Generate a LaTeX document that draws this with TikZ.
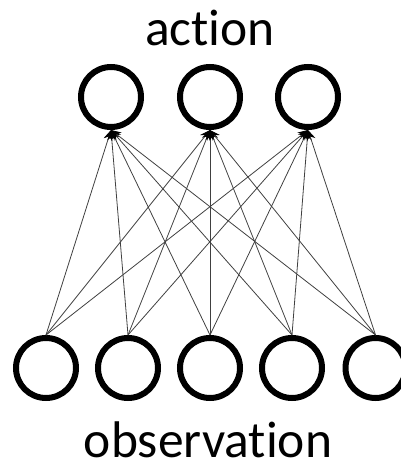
\documentclass[tikz,border=0pt]{standalone}
\usepackage{fontspec}
\setmainfont[RawFeature={-liga;-clig}]{Carlito}
\usetikzlibrary{arrows.meta}
\begin{document}
\begin{tikzpicture}[x=1pt,y=-1pt,
  unit/.style={circle,draw=black,line width=6pt,minimum size=60pt,inner sep=0pt,fill=white},
  weight/.style={draw=black!75,line width=0.8pt,-{Stealth[length=10pt,width=9pt,color=black]}},
  label/.style={font=\fontsize{51.5}{60}\selectfont,anchor=base,inner sep=0pt}]
\useasboundingbox (0,0) rectangle (401,463);
% output layer
\node[unit] (a1) at (111,97) {};
\node[unit] (a2) at (210,97) {};
\node[unit] (a3) at (308,97) {};
% input layer
\node[unit] (o1) at (46,368) {};
\node[unit] (o2) at (128,368) {};
\node[unit] (o3) at (210,368) {};
\node[unit] (o4) at (292,368) {};
\node[unit] (o5) at (375.5,368) {};
% fully connected weights
\foreach \i in {1,...,5}
  \foreach \j in {1,2,3}
    \draw[weight] (o\i.north) -- (a\j.south);
% layer captions
\node[label] (act) at (210,45) {action};
\node[label] (obs) at (208,457.5) {observation};
\end{tikzpicture}
\end{document}
